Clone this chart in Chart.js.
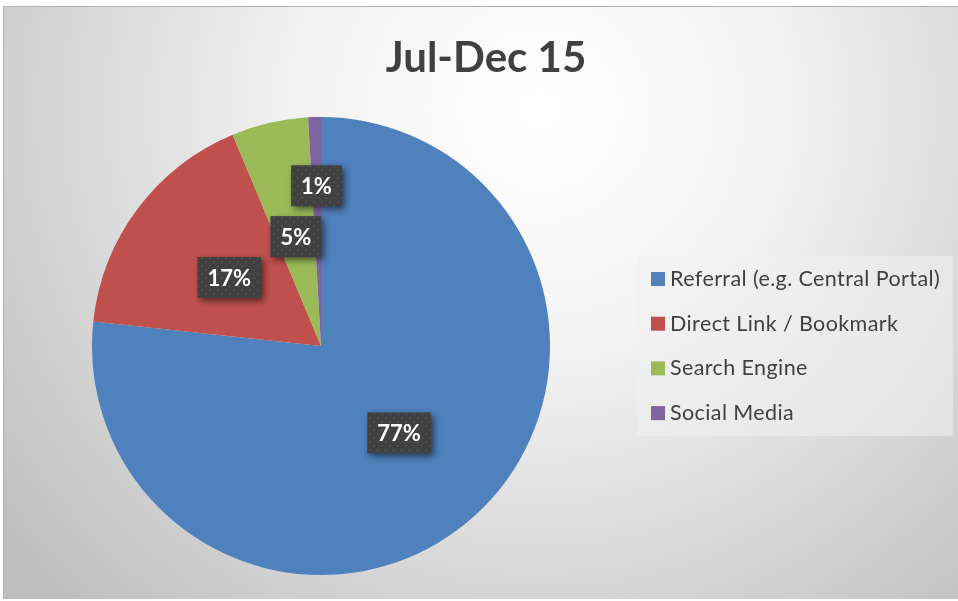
<!DOCTYPE html>
<html>
<head>
<meta charset="utf-8">
<script src="https://cdn.jsdelivr.net/npm/chart.js@4/dist/chart.umd.min.js"></script>
<style>
  html, body { margin: 0; padding: 0; background: #fff; }
  #wrap { position: absolute; left: 0; top: 0; width: 958px; height: 601px; }
</style>
</head>
<body>
<div id="wrap"><canvas id="c"></canvas></div>
<script>
const chartTitle = 'Jul-Dec 15';
const categories = ['Referral (e.g. Central Portal)', 'Direct Link / Bookmark', 'Search Engine', 'Social Media'];
const shares = [76.7, 17.0, 5.4, 0.9];
const sliceColors = ['#4f81bd', '#c0504d', '#9bbb59', '#8064a2'];

const FONT = 'Lato, "Open Sans", sans-serif';

// dotted pattern for label boxes
function makePattern(ctx) {
  const p = document.createElement('canvas');
  p.width = 8; p.height = 8;
  const pc = p.getContext('2d');
  pc.fillStyle = '#404040';
  pc.fillRect(0, 0, 8, 8);
  pc.fillStyle = 'rgba(255,255,255,0.07)';
  pc.beginPath(); pc.arc(2, 2, 1.3, 0, Math.PI * 2); pc.fill();
  pc.beginPath(); pc.arc(6, 6, 1.3, 0, Math.PI * 2); pc.fill();
  return ctx.createPattern(p, 'repeat');
}

const backgroundPlugin = {
  id: 'bg',
  beforeDraw(chart) {
    const ctx = chart.ctx;
    const W = chart.width, H = chart.height;
    ctx.save();
    ctx.fillStyle = '#ffffff';
    ctx.fillRect(0, 0, W, H);
    const g = ctx.createRadialGradient(540, 110, 0, 540, 110, 700);
    g.addColorStop(0, '#ffffff');
    g.addColorStop(0.35, '#f2f2f2');
    g.addColorStop(1, '#bdbdbd');
    ctx.fillStyle = g;
    ctx.fillRect(3, 6, W - 3, H - 8);
    ctx.strokeStyle = '#b0b0b0';
    ctx.lineWidth = 1;
    ctx.beginPath();
    ctx.moveTo(3.5, H - 2);
    ctx.lineTo(3.5, 6.5);
    ctx.lineTo(W, 6.5);
    ctx.stroke();
    ctx.restore();
  }
};

const decorPlugin = {
  id: 'decor',
  afterDatasetsDraw(chart, args, opts) {
    const ctx = chart.ctx;
    const meta = chart.getDatasetMeta(0);
    const data = chart.data.datasets[0].data;
    const total = data.reduce((a, b) => a + b, 0);
    const pattern = makePattern(ctx);
    ctx.save();
    ctx.font = 'bold 22px ' + FONT;
    ctx.textAlign = 'center';
    ctx.textBaseline = 'middle';
    meta.data.forEach((arc, i) => {
      const p = arc.getProps(['x', 'y', 'startAngle', 'endAngle', 'outerRadius'], true);
      const mid = (p.startAngle + p.endAngle) / 2;
      const r = p.outerRadius * opts.labelRadius[i];
      const lx = p.x + r * Math.cos(mid);
      const ly = p.y + r * Math.sin(mid);
      const txt = Math.round(data[i] / total * 100) + '%';
      const tw = ctx.measureText(txt).width;
      const bw = tw + 20, bh = 41;
      ctx.save();
      ctx.shadowColor = 'rgba(0,0,0,0.55)';
      ctx.shadowBlur = 7;
      ctx.shadowOffsetX = 3;
      ctx.shadowOffsetY = 3;
      ctx.fillStyle = pattern;
      ctx.fillRect(lx - bw / 2, ly - bh / 2, bw, bh);
      ctx.restore();
      ctx.fillStyle = '#ffffff';
      ctx.fillText(txt, lx, ly + 1);
    });
    ctx.restore();
  },
  afterDraw(chart) {
    const ctx = chart.ctx;
    ctx.save();
    // title
    ctx.font = 'bold 42px ' + FONT;
    ctx.fillStyle = '#404040';
    ctx.textAlign = 'center';
    ctx.textBaseline = 'alphabetic';
    ctx.fillText(chartTitle, 486, 72);
    // legend
    ctx.fillStyle = 'rgba(240,240,240,0.6)';
    ctx.fillRect(637, 256, 316, 180);
    ctx.font = '21.5px ' + FONT;
    ctx.textAlign = 'left';
    ctx.letterSpacing = '0.4px';
    const labels = chart.data.labels;
    const colors = chart.data.datasets[0].backgroundColor;
    labels.forEach((lab, i) => {
      const base = 286 + i * 44.7;
      ctx.fillStyle = colors[i];
      ctx.fillRect(651, base - 14, 14, 14);
      ctx.fillStyle = '#404040';
      ctx.fillText(lab, 670, base);
    });
    ctx.restore();
  }
};

new Chart(document.getElementById('c'), {
  type: 'pie',
  data: {
    labels: categories,
    datasets: [{
      data: shares,
      backgroundColor: sliceColors,
      borderWidth: 0
    }]
  },
  options: {
    responsive: true,
    maintainAspectRatio: false,
    animation: false,
    layout: { padding: { left: 92, top: 117, right: 408, bottom: 26 } },
    plugins: {
      legend: { display: false },
      title: { display: false },
      tooltip: { enabled: false },
      decor: { labelRadius: [0.51, 0.5, 0.49, 0.70] }
    }
  },
  plugins: [backgroundPlugin, decorPlugin]
});
</script>
</body>
</html>
